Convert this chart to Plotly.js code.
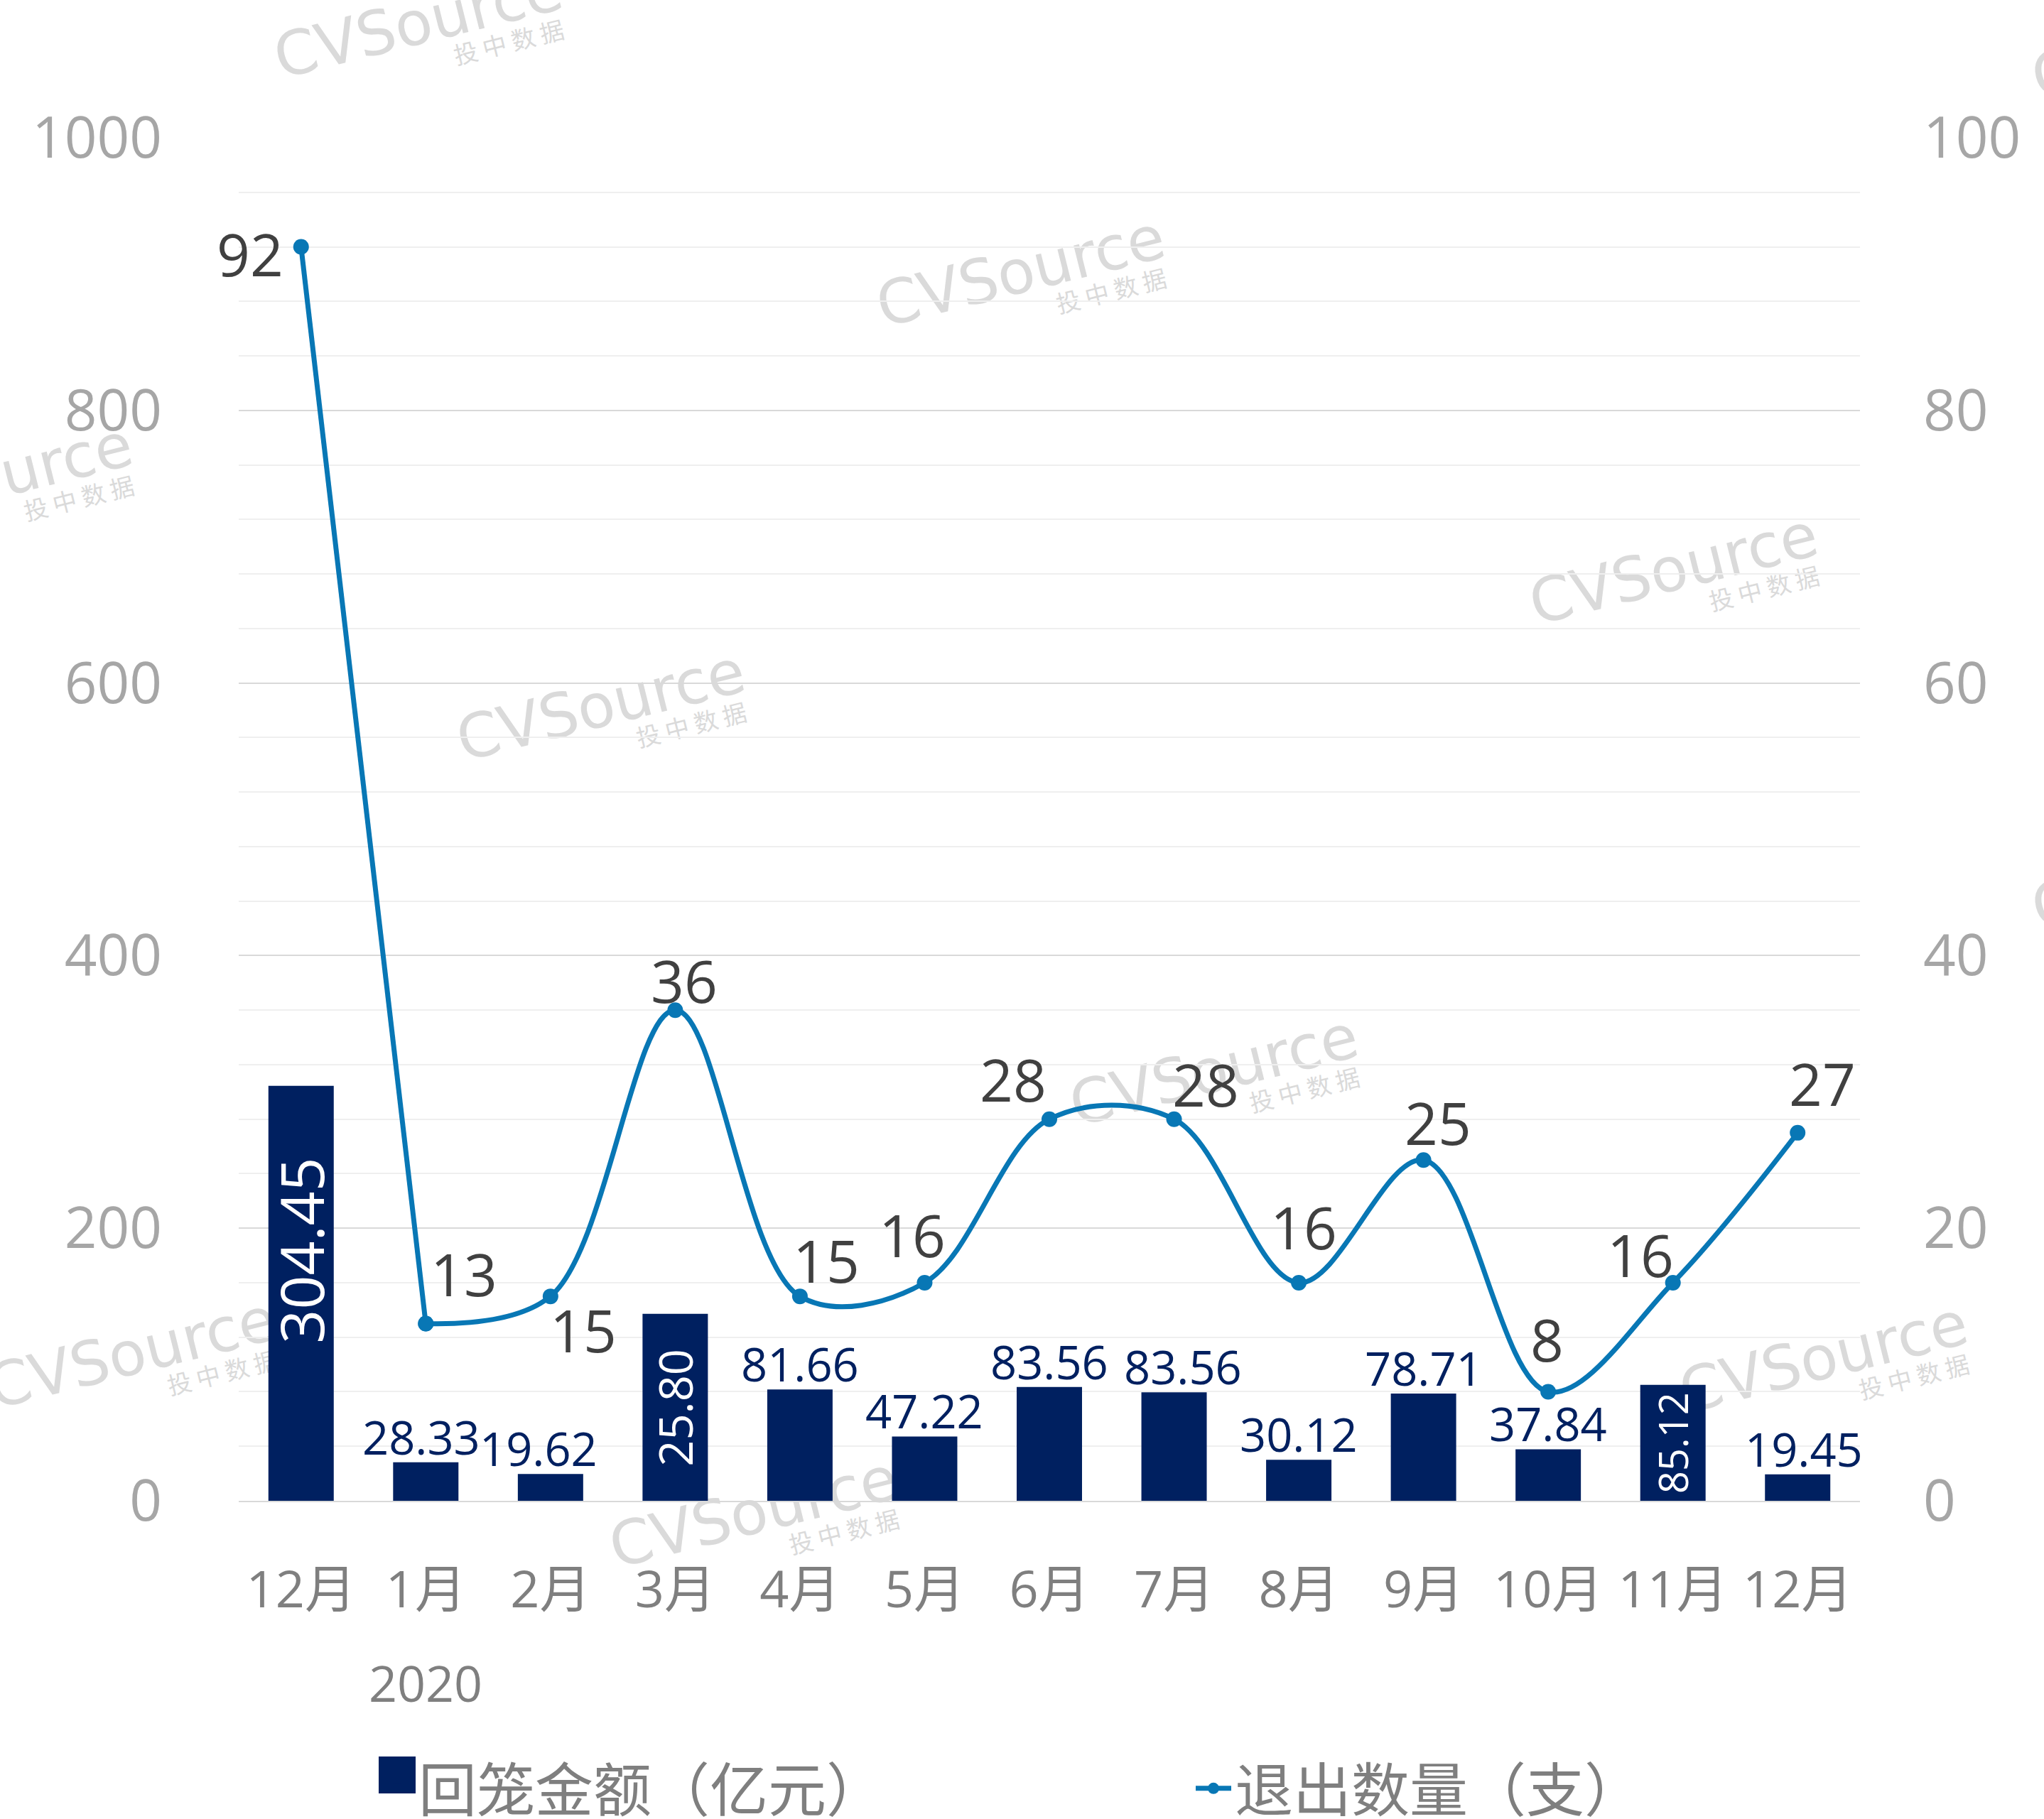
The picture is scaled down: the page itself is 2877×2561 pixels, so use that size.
<!DOCTYPE html>
<html>
<head>
<meta charset="utf-8">
<script src="https://cdn.plot.ly/plotly-3.0.1.min.js"></script>
<style>
html,body{margin:0;padding:0;background:#ffffff;}
#chart{width:2877px;height:2561px;}
</style>
</head>
<body>
<div id="chart"></div>
<script>
// ---------------- data ----------------
const months = ['12月','1月','2月','3月','4月','5月','6月','7月','8月','9月','10月','11月','12月'];
const amountValues = [304.45, 28.33, 19.62, 137.2, 81.66, 47.22, 83.56, 79.6, 30.12, 78.71, 37.84, 85.12, 19.45];
const amountLabels = ['304.45','28.33','19.62','25.80','81.66','47.22','83.56','83.56','30.12','78.71','37.84','85.12','19.45'];
const exitCounts = [92, 13, 15, 36, 15, 16, 28, 28, 16, 25, 8, 16, 27];
const yearLabel = '2020';
const amountName = '回笼金额（亿元）';
const countName = '退出数量（支）';
const leftTicks = [0, 200, 400, 600, 800, 1000];
const rightTicks = [0, 20, 40, 60, 80, 100];

// ---------------- layout constants (styling only) ----------------
const W = 2877, H = 2561;
const M = {l: 336, r: 259, t: 194, b: 448};
const plotW = W - M.l - M.r;
const plotH = H - M.t - M.b;
const px2x = p => (p - M.l) / plotW;
const px2y = p => (H - M.b - p) / plotH;

const NAVY = '#002060';
const BLUE = '#0877b5';
const LATIN = 'Open Sans, Noto Sans CJK SC, sans-serif';
const CJK = 'Noto Sans CJK SC, sans-serif';

// label placement tweaks (pixels)
const insideLabelStyle = {0: {size: 84, shift: 60}, 3: {size: 65, shift: 0}, 11: {size: 56, shift: 0}};
const outsideLabelXShift = {1: -6, 2: -17, 7: 12, 12: 9};
const countLabelOffsets = [[-72,9],[54,-71],[46,47],[13,-42],[37,-51],[-17,-68],[-51,-57],[44,-50],[7,-79],[20,-53],[-2,-74],[-46,-40],[35,-70]];
const watermarkCenters = [[587,26],[1435,376],[-18,668],[2354,795],[844,987],[3061,55],[3061,1224],[1707,1501],[184,1899],[2565,1905],[1059,2123]];

const idx = months.map((_, i) => i);
const lineStyle = {color: BLUE, width: 7};
const markerStyle = {color: BLUE, size: 22};

const traces = [
  {
    type: 'bar', name: amountName, x: idx, y: amountValues, yaxis: 'y',
    marker: {color: NAVY}, width: 0.524, hoverinfo: 'skip', textposition: 'none',
    legendwidth: 1084
  },
  // first (steep) segment drawn straight, the rest smoothed
  {
    type: 'scatter', name: countName, x: idx.slice(0, 2), y: exitCounts.slice(0, 2), yaxis: 'y2',
    mode: 'lines+markers', line: Object.assign({shape: 'linear'}, lineStyle),
    marker: markerStyle, hoverinfo: 'skip', showlegend: false
  },
  {
    type: 'scatter', name: countName, x: idx.slice(1), y: exitCounts.slice(1), yaxis: 'y2',
    mode: 'lines+markers', line: Object.assign({shape: 'spline', smoothing: 1}, lineStyle),
    marker: markerStyle, hoverinfo: 'skip', legendwidth: 560
  }
];

const annotations = [];
idx.forEach(i => {
  const ins = insideLabelStyle[i];
  if (ins) {
    annotations.push({
      xref: 'x', yref: 'y', x: i, y: amountValues[i] / 2, text: amountLabels[i],
      showarrow: false, textangle: -90, xanchor: 'center', yanchor: 'middle', yshift: ins.shift,
      font: {family: LATIN, size: ins.size, color: '#ffffff'}
    });
  } else {
    annotations.push({
      xref: 'x', yref: 'y', x: i, y: amountValues[i], text: amountLabels[i],
      showarrow: false, xanchor: 'center', yanchor: 'bottom', yshift: -10,
      xshift: outsideLabelXShift[i] || 0,
      font: {family: LATIN, size: 65, color: NAVY}
    });
  }
  const off = countLabelOffsets[i];
  annotations.push({
    xref: 'x', yref: 'y2', x: i, y: exitCounts[i], text: String(exitCounts[i]),
    showarrow: false, xanchor: 'center', yanchor: 'middle', xshift: off[0], yshift: -off[1],
    font: {family: LATIN, size: 82, color: '#404040'}
  });
});
annotations.push({
  xref: 'x', yref: 'paper', x: 1, y: px2y(2369), text: yearLabel, showarrow: false,
  xanchor: 'center', yanchor: 'middle', font: {family: LATIN, size: 70, color: '#7f7f7f'}
});

const shapes = [];
watermarkCenters.forEach(([cx, cy]) => {
  shapes.push({
    type: 'rect', xref: 'paper', yref: 'paper',
    x0: px2x(cx - 1), x1: px2x(cx + 1), y0: px2y(cy + 1), y1: px2y(cy - 1),
    line: {width: 0}, fillcolor: 'rgba(0,0,0,0)', layer: 'below',
    label: {text: 'CVSource', textangle: -14, textposition: 'middle center',
            font: {family: 'DejaVu Sans', size: 86, color: '#dadada'}}
  });
  const tx = cx + 130, ty = cy + 37;
  shapes.push({
    type: 'rect', xref: 'paper', yref: 'paper',
    x0: px2x(tx - 1), x1: px2x(tx + 1), y0: px2y(ty + 1), y1: px2y(ty - 1),
    line: {width: 0}, fillcolor: 'rgba(0,0,0,0)', layer: 'below',
    label: {text: '投 中 数 据', textangle: -14, textposition: 'middle center',
            font: {family: CJK, size: 34, color: '#dadada'}}
  });
});
// larger legend swatch for the bar series
shapes.push({
  type: 'rect', xref: 'paper', yref: 'paper',
  x0: px2x(533), x1: px2x(585), y0: px2y(2525), y1: px2y(2473),
  fillcolor: NAVY, line: {width: 0}, layer: 'above'
});

const layout = {
  width: W, height: H,
  margin: {l: M.l, r: M.r, t: M.t, b: M.b, pad: 0, autoexpand: false},
  paper_bgcolor: '#ffffff', plot_bgcolor: 'rgba(0,0,0,0)',
  showlegend: true,
  xaxis: {
    range: [-0.5, 12.5], tickmode: 'array', tickvals: idx, ticktext: months,
    showgrid: false, zeroline: false, showline: true, linecolor: '#d9d9d9', linewidth: 2,
    ticks: '', ticklabelstandoff: 62, automargin: false,
    tickfont: {family: LATIN, size: 72, color: '#7f7f7f'}, fixedrange: true
  },
  yaxis: {
    range: [0, 1000], tickmode: 'array', tickvals: leftTicks, ticktext: leftTicks.map(String),
    showgrid: true, gridcolor: '#d9d9d9', gridwidth: 2, zeroline: false, showline: false,
    minor: {dtick: 40, tick0: 0, showgrid: true, gridcolor: '#efefef', gridwidth: 2, ticks: ''},
    ticks: '', ticklabelstandoff: 107, automargin: false,
    tickfont: {family: LATIN, size: 80, color: '#a6a6a6'}, fixedrange: true
  },
  yaxis2: {
    range: [0, 100], overlaying: 'y', side: 'right', tickmode: 'array',
    tickvals: rightTicks, ticktext: rightTicks.map(String),
    showgrid: false, zeroline: false, showline: false, ticks: '', ticklabelstandoff: 88, automargin: false,
    tickfont: {family: LATIN, size: 80, color: '#a6a6a6'}, fixedrange: true
  },
  legend: {
    orientation: 'h', x: px2x(529), xanchor: 'left', y: px2y(2518), yanchor: 'middle',
    bgcolor: 'rgba(0,0,0,0)', borderwidth: 0, itemwidth: 50, traceorder: 'normal',
    font: {family: CJK, size: 82, color: '#7f7f7f'}
  },
  annotations: annotations,
  shapes: shapes
};

Plotly.newPlot('chart', traces, layout, {displayModeBar: false, staticPlot: true});
</script>
</body>
</html>
